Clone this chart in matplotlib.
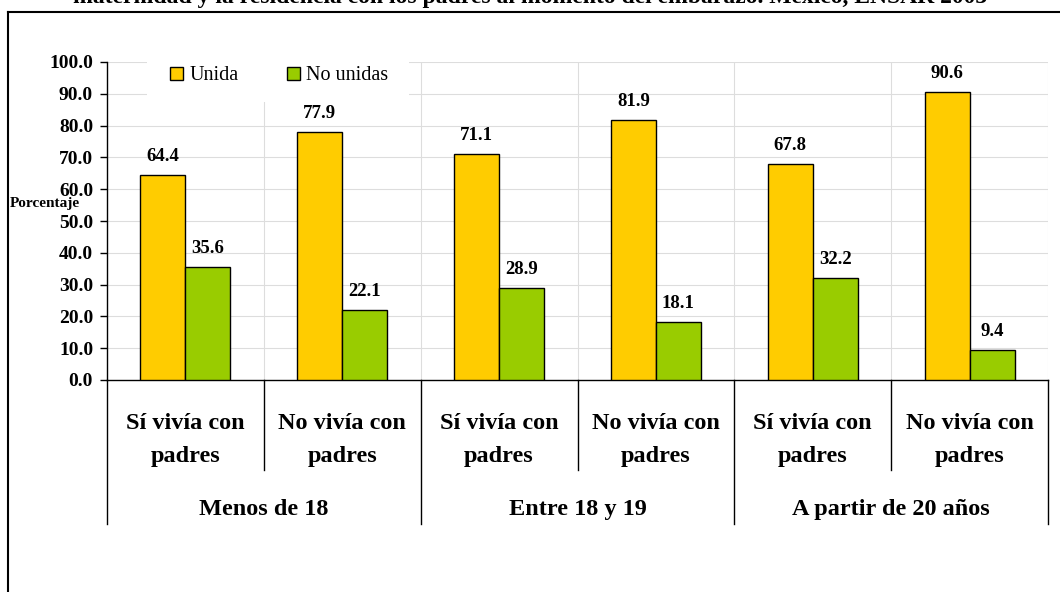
import matplotlib
matplotlib.use("Agg")
import matplotlib.pyplot as plt
from matplotlib.lines import Line2D
from matplotlib.patches import Rectangle
import numpy as np

# ---- data ----
groups = ["Menos de 18", "Entre 18 y 19", "A partir de 20 años"]
subcats = ["Sí vivía con\npadres", "No vivía con\npadres"] * 3
unida = [64.4, 77.9, 71.1, 81.9, 67.8, 90.6]
no_unidas = [35.6, 22.1, 28.9, 18.1, 32.2, 9.4]
series_names = ["Unida", "No unidas"]
yticks = [0, 10, 20, 30, 40, 50, 60, 70, 80, 90, 100]
title = "maternidad y la residencia con los padres al momento del embarazo. México, ENSAR 2003"
ylabel = "Porcentaje"

YELLOW = "#FFCC00"
GREEN = "#99CC00"
FONT = "Liberation Serif"

W, H = 1060, 592
fig = plt.figure(figsize=(W / 100, H / 100), dpi=100)
plt.rcParams["font.family"] = FONT

x0, x1 = 107, 1048
ytop, ybot = 62, 380
ax = fig.add_axes([x0 / W, 1 - ybot / H, (x1 - x0) / W, (ybot - ytop) / H])

n = len(unida)
xs = np.arange(n) + 0.5
bw = 0.287
ax.bar(xs - bw / 2, unida, bw, color=YELLOW, edgecolor="black", linewidth=1, zorder=3, label=series_names[0])
ax.bar(xs + bw / 2, no_unidas, bw, color=GREEN, edgecolor="black", linewidth=1, zorder=3, label=series_names[1])

for xv, v in zip(xs - bw / 2, unida):
    ax.annotate(f"{v:.1f}", (xv, v), xytext=(0, 14), textcoords="offset pixels",
                ha="center", va="baseline", fontsize=13.5, fontweight="bold", family=FONT)
for xv, v in zip(xs + bw / 2, no_unidas):
    ax.annotate(f"{v:.1f}", (xv, v), xytext=(0, 14), textcoords="offset pixels",
                ha="center", va="baseline", fontsize=13.5, fontweight="bold", family=FONT)

ax.set_xlim(0, n)
ax.set_ylim(0, 100)
ax.set_yticks(yticks)
ax.set_yticklabels([f"{t:.1f}" for t in yticks], fontsize=14, fontweight="bold", family=FONT)
ax.set_xticks([])
ax.tick_params(axis="y", direction="out", length=5, width=1, pad=5)
for s in ["top", "right"]:
    ax.spines[s].set_visible(False)
ax.spines["left"].set_linewidth(1)
ax.spines["bottom"].set_linewidth(1)

# gridlines
for t in yticks[1:]:
    ax.axhline(t, color="#DDDDDD", linewidth=0.8, zorder=0)
for k in range(1, n + 1):
    ax.axvline(k, color="#DDDDDD", linewidth=0.8, zorder=0)

# legend background
ax.add_patch(Rectangle((40 / 157, (380 - 102) / 3.18), (409 - 147) / 157, 20,
                       facecolor="white", edgecolor="none", zorder=1, clip_on=False))
leg = ax.legend(loc="center left", bbox_to_anchor=((170 - 107) / 941, (380 - 76) / 318), ncol=2,
                frameon=False, borderpad=0, handlelength=0.65, handleheight=0.65,
                handletextpad=0.3, columnspacing=2.4, borderaxespad=0,
                prop={"family": FONT, "size": 14.5})
for p in leg.get_patches():
    p.set_linewidth(1)

# category axis below
tr = ax.get_xaxis_transform()
def fy(py):
    return (ybot - py) / (ybot - ytop)
for k in range(0, n + 1):
    if k % 2 == 0:
        ax.add_line(Line2D([k, k], [0, fy(524)], transform=tr, color="black", linewidth=1, clip_on=False))
    else:
        ax.add_line(Line2D([k, k], [0, fy(470)], transform=tr, color="black", linewidth=1, clip_on=False))
for xv, lab in zip(xs, subcats):
    l1, l2 = lab.split("\n")
    ax.text(xv, fy(429), l1, transform=tr, ha="center", va="baseline", fontsize=17.5,
            fontweight="bold", family=FONT)
    ax.text(xv, fy(462), l2, transform=tr, ha="center", va="baseline", fontsize=17.5,
            fontweight="bold", family=FONT)
for g, lab in enumerate(groups):
    ax.text(2 * g + 1, fy(515), lab, transform=tr, ha="center", va="baseline", fontsize=17.5,
            fontweight="bold", family=FONT)

# y label
fig.text(10 / W, 1 - 207 / H, ylabel, ha="left", va="baseline", fontsize=11, fontweight="bold", family=FONT)

# title (cut off at top)
fig.text(0.5, 1 - 3 / H, title, ha="center", va="baseline", fontsize=17, fontweight="bold", family=FONT)

# outer frame
fig.add_artist(Line2D([8 / W, 1], [1 - 12 / H, 1 - 12 / H], transform=fig.transFigure, color="black", linewidth=1.5))
fig.add_artist(Line2D([8 / W, 8 / W], [1 - 12 / H, 0], transform=fig.transFigure, color="black", linewidth=1.5))

fig.savefig("out.png", dpi=100)
